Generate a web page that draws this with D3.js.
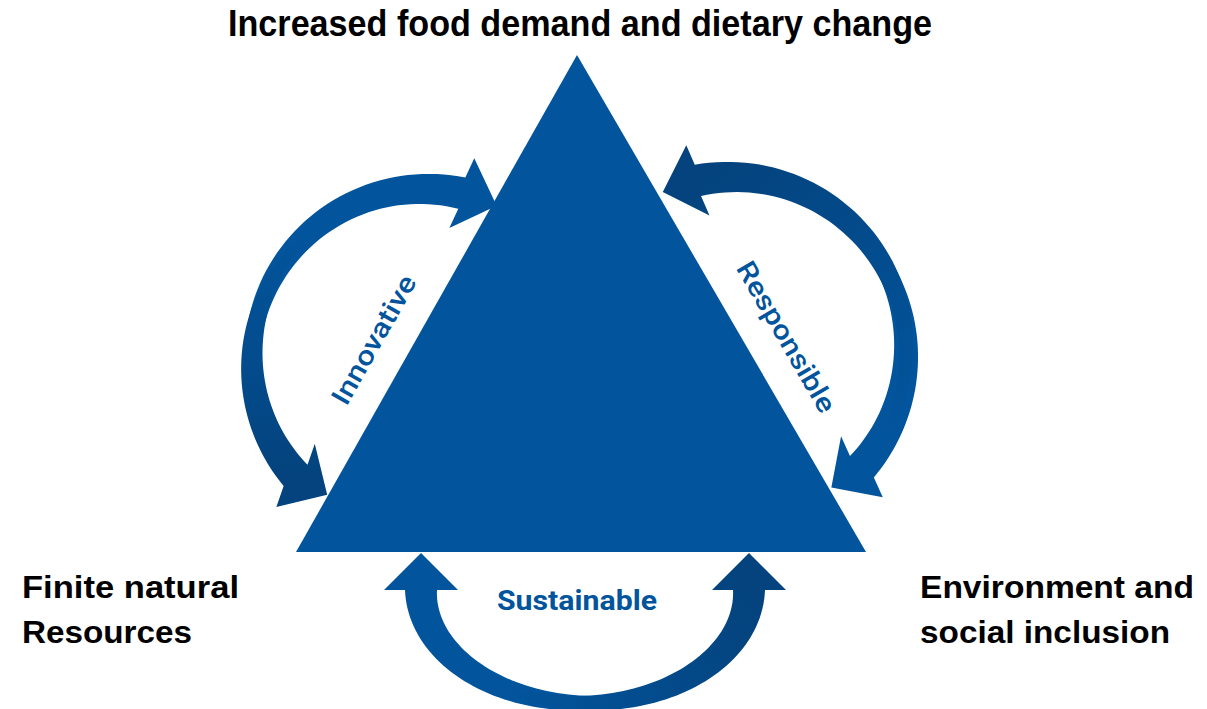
<!DOCTYPE html>
<html>
<head>
<meta charset="utf-8">
<script src="https://cdn.jsdelivr.net/npm/d3@7"></script>
<style>
  body { margin: 0; background: #fff; }
  svg { display: block; }
</style>
</head>
<body>
<svg id="chart" width="1207" height="709"></svg>
<script>
"use strict";

// corners of the triangle (apex, base left, base right)
const triangleCorners = [[577, 55], [296, 552], [866, 552]];

// black labels at the three corners: text, x, baseline, width
const cornerLabels = [
  ["Increased food demand and dietary change", 228, 36, 704],
  ["Finite natural", 22, 598, 217],
  ["Resources", 22, 643, 170],
  ["Environment and", 920, 598, 274],
  ["social inclusion", 920, 643, 250]
];

// blue labels along the sides: text, centre x, centre y, angle, width
const sideLabels = [
  ["Innovative", 374, 340, -60.5, 144],
  ["Responsible", 786, 337, 59.8, 170],
  ["Sustainable", 577, 600, 0, 160]
];

// the three curved arrow loops: centre, radii, then two arrows (tail angle -> head angle, head turn)
const loops = [
  { cx: 424, cy: 361, rx: 172, ry: 172, arrows: [[150, 282.7, 7, "light"], [225, 138.3, -17, "dark"]] },
  { cx: 732, cy: 351, rx: 174, ry: 174, arrows: [[290, 401.7, 14, "light"], [390, 258.7, -7, "dark"]] },
  { cx: 585, cy: 590, rx: 164, ry: 113, arrows: [[60, 180, 0, "light"], [120, 0, 0, "dark"]] }
];

const blue = "#02549c";
const darkBlue = "#04437d";

const svg = d3.select("#chart");
const defs = svg.append("defs");

const rad = d => d * Math.PI / 180;

// builds the outline of a tapered curved arrow along an ellipse arc
function arrowOutline(loop, a0, a1, turn) {
  const n = 60;
  const w0 = 6, w1 = 32;
  const headLen = 37, headHalf = 37;
  const dir = a1 > a0 ? 1 : -1;
  const left = [], right = [];
  let end, tang;
  d3.range(n + 1).forEach(i => {
    const s = i / n;
    const a = rad(a0 + (a1 - a0) * s);
    const p = [loop.cx + loop.rx * Math.cos(a), loop.cy + loop.ry * Math.sin(a)];
    let t = [-loop.rx * Math.sin(a) * dir, loop.ry * Math.cos(a) * dir];
    const len = Math.hypot(t[0], t[1]);
    t = [t[0] / len, t[1] / len];
    const nrm = [-t[1], t[0]];
    const w = (w0 + (w1 - w0) * Math.pow(s, 0.8)) / 2;
    left.push([p[0] + nrm[0] * w, p[1] + nrm[1] * w]);
    right.push([p[0] - nrm[0] * w, p[1] - nrm[1] * w]);
    end = p; tang = t;
  });
  // head direction, turned a little towards the triangle
  const c = Math.cos(rad(turn)), sn = Math.sin(rad(turn));
  const h = [tang[0] * c - tang[1] * sn, tang[0] * sn + tang[1] * c];
  const hn = [-h[1], h[0]];
  const head = [
    [end[0] + hn[0] * headHalf, end[1] + hn[1] * headHalf],
    [end[0] + h[0] * headLen, end[1] + h[1] * headLen],
    [end[0] - hn[0] * headHalf, end[1] - hn[1] * headHalf]
  ];
  const start = left[0];
  return { pts: left.concat(head, right.reverse()), start: start, end: end };
}

const line = d3.line().curve(d3.curveLinearClosed);

// arrows behind the triangle
const arrowG = svg.append("g");
loops.forEach((loop, li) => {
  loop.arrows.forEach((ar, ai) => {
    const o = arrowOutline(loop, ar[0], ar[1], ar[2]);
    let fill = blue;
    if (ar[3] === "dark") {
      const id = "grad" + li + "_" + ai;
      const g = defs.append("linearGradient")
        .attr("id", id)
        .attr("gradientUnits", "userSpaceOnUse")
        .attr("x1", o.start[0]).attr("y1", o.start[1])
        .attr("x2", o.end[0]).attr("y2", o.end[1]);
      g.append("stop").attr("offset", "0%").attr("stop-color", blue);
      g.append("stop").attr("offset", "55%").attr("stop-color", "#034b8c");
      g.append("stop").attr("offset", "100%").attr("stop-color", darkBlue);
      fill = `url(#${id})`;
    }
    arrowG.append("path")
      .attr("d", line(o.pts))
      .attr("fill", fill);
  });
});

// triangle
svg.append("path")
  .attr("d", line(triangleCorners))
  .attr("fill", blue);

// corner labels
svg.append("g").selectAll("text")
  .data(cornerLabels)
  .enter()
  .append("text")
  .attr("x", d => d[1])
  .attr("y", d => d[2])
  .attr("textLength", d => d[3])
  .attr("lengthAdjust", "spacingAndGlyphs")
  .attr("font-family", "'Liberation Sans', Arial, sans-serif")
  .attr("font-weight", "bold")
  .attr("font-size", (d, i) => i === 0 ? 36 : 32)
  .attr("fill", "#000")
  .text(d => d[0]);

// side labels
svg.append("g").selectAll("text")
  .data(sideLabels)
  .enter()
  .append("text")
  .attr("transform", d => `translate(${d[1]},${d[2]}) rotate(${d[3]})`)
  .attr("text-anchor", "middle")
  .attr("dominant-baseline", "central")
  .attr("textLength", d => d[4])
  .attr("lengthAdjust", "spacingAndGlyphs")
  .attr("font-family", "Roboto, 'Liberation Sans', Arial, sans-serif")
  .attr("font-weight", (d, i) => i === 2 ? "bold" : 500)
  .attr("font-size", (d, i) => i === 2 ? 28 : 27)
  .attr("fill", blue)
  .text(d => d[0]);
</script>
</body>
</html>
